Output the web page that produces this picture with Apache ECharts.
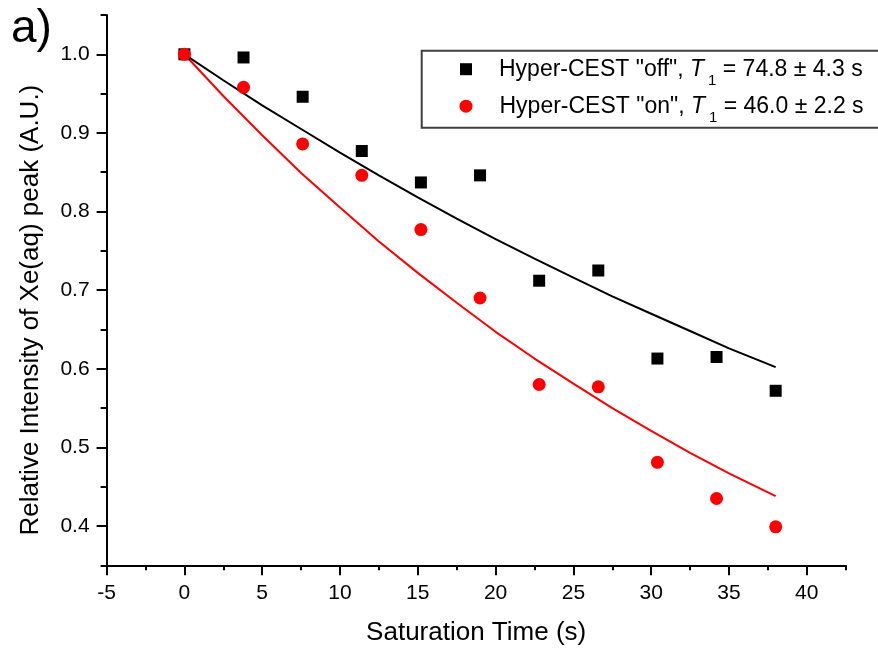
<!DOCTYPE html>
<html>
<head>
<meta charset="utf-8">
<title>Hyper-CEST T1</title>
<script src="https://cdn.jsdelivr.net/npm/echarts@6/dist/echarts.min.js"></script>
<style>
  html, body { margin: 0; padding: 0; background: #fff; }
  #chart { width: 878px; height: 649px; }
</style>
</head>
<body>
<div id="chart"></div>
<script>
// saturation times (s) of the measured points
const timeS = [0, 3.8, 7.6, 11.4, 15.2, 19, 22.8, 26.6, 30.4, 34.2, 38];
// relative intensity, hyper-CEST "off" (squares)
const offValues = [1.0, 0.996, 0.946, 0.877, 0.837, 0.846, 0.712, 0.725, 0.613, 0.615, 0.572];
// relative intensity, hyper-CEST "on" (circles)
const onValues = [1.0, 0.958, 0.886, 0.846, 0.777, 0.690, 0.580, 0.577, 0.481, 0.435, 0.399];

// fitted decay curves
const fitTime = [0, 2.5, 5, 7.5, 10, 12.5, 15, 17.5, 20, 22.5, 25, 27.5, 30, 32.5, 35, 38];
const offFit = [1.000, 0.967, 0.935, 0.905, 0.875, 0.846, 0.818, 0.791, 0.765, 0.740, 0.716, 0.692, 0.670, 0.648, 0.626, 0.602];
const onFit = [1.000, 0.947, 0.897, 0.849, 0.805, 0.762, 0.722, 0.684, 0.647, 0.613, 0.581, 0.550, 0.521, 0.493, 0.467, 0.438];

// tick labels
const xTicks = [-5, 0, 5, 10, 15, 20, 25, 30, 35, 40];
const xMinorTicks = [-2.5, 2.5, 7.5, 12.5, 17.5, 22.5, 27.5, 32.5, 37.5, 42.5];
const yTicks = [0.4, 0.5, 0.6, 0.7, 0.8, 0.9, 1.0];
const yMinorTicks = [0.35, 0.45, 0.55, 0.65, 0.75, 0.85, 0.95, 1.05];

const FONT = '"Liberation Sans", Arial, sans-serif';

const pairs = (xs, ys) => xs.map((x, i) => [x, ys[i]]);

// the tall, bottom-aligned "sub" token pushes the 1 below the baseline
const legendRich = {
  h: { fontSize: 23, lineHeight: 26, fontFamily: FONT, color: '#000', padding: [0, 0, 0, 22] },
  n: { fontSize: 23, lineHeight: 26, fontFamily: FONT, color: '#000' },
  it: { fontSize: 23, lineHeight: 26, fontFamily: FONT, color: '#000', fontStyle: 'italic', padding: [0, 4, 0, 0] },
  sub: { fontSize: 15, lineHeight: 38, fontFamily: FONT, color: '#000', verticalAlign: 'bottom' }
};

const chart = echarts.init(document.getElementById('chart'), null, { renderer: 'canvas' });

const axisLine = { show: true, onZero: false, lineStyle: { color: '#000', width: 2 } };

const option = {
  animation: false,
  backgroundColor: '#fff',
  grid: { left: 106.6, right: 32.3, top: 15, bottom: 83.7, outerBoundsMode: 'none' },
  graphic: [
    {
      type: 'text', left: 11, top: 6,
      style: { text: 'a)', font: '46px ' + FONT, fill: '#000' }
    },
    {
      type: 'rect', z: 1,
      shape: { x: 421.7, y: 50.8, width: 480, height: 77 },
      style: { fill: '#fff', stroke: '#404040', lineWidth: 2 }
    }
  ],
  legend: [
    {
      data: [{ name: 'off', icon: 'rect' }],
      left: 460, top: 57.7, padding: 0,
      itemWidth: 12, itemHeight: 12, selectedMode: false,
      formatter: () => '{h|Hyper-CEST "off", }{it|T}{sub|1}{n| = 74.8 ± 4.3 s}',
      textStyle: { rich: legendRich }
    },
    {
      data: [{ name: 'on', icon: 'circle' }],
      left: 459.5, top: 94.7, padding: 0,
      itemWidth: 13, itemHeight: 13, selectedMode: false,
      formatter: () => '{h|Hyper-CEST "on", }{it|T}{sub|1}{n| = 46.0 ± 2.2 s}',
      textStyle: { rich: legendRich }
    }
  ],
  xAxis: [
    {
      type: 'value', position: 'bottom', min: -5, max: 42.5,
      name: 'Saturation Time (s)', nameLocation: 'middle', nameGap: 55,
      nameTextStyle: { fontSize: 26, fontFamily: FONT, color: '#000' },
      axisLine: axisLine,
      axisTick: { show: true, inside: false, length: 10, customValues: xTicks, lineStyle: { color: '#000', width: 2 } },
      axisLabel: { customValues: xTicks, margin: 17, fontSize: 21, fontFamily: FONT, color: '#000', formatter: (v) => String(v) },
      splitLine: { show: false }
    },
    {
      type: 'value', position: 'bottom', min: -5, max: 42.5,
      axisLine: { show: false, onZero: false },
      axisTick: { show: true, inside: false, length: 5, customValues: xMinorTicks, lineStyle: { color: '#000', width: 2 } },
      axisLabel: { show: false },
      splitLine: { show: false }
    }
  ],
  yAxis: [
    {
      type: 'value', position: 'left', min: 0.35, max: 1.05,
      name: 'Relative Intensity of Xe(aq) peak (A.U.)', nameLocation: 'middle', nameGap: 63, nameRotate: 90,
      nameTextStyle: { fontSize: 26, fontFamily: FONT, color: '#000', padding: [0, 40, 0, 0] },
      axisLine: axisLine,
      axisTick: { show: true, inside: false, length: 10, customValues: yTicks, lineStyle: { color: '#000', width: 2 } },
      axisLabel: { customValues: yTicks, margin: 17, fontSize: 21, fontFamily: FONT, color: '#000', formatter: (v) => v.toFixed(1) },
      splitLine: { show: false }
    },
    {
      type: 'value', position: 'left', min: 0.35, max: 1.05,
      axisLine: { show: false, onZero: false },
      axisTick: { show: true, inside: false, length: 6, customValues: yMinorTicks, lineStyle: { color: '#000', width: 2 } },
      axisLabel: { show: false },
      splitLine: { show: false }
    }
  ],
  series: [
    {
      name: 'off fit', type: 'line', data: pairs(fitTime, offFit),
      showSymbol: false, smooth: false, z: 2,
      lineStyle: { color: '#000', width: 2 }
    },
    {
      name: 'on fit', type: 'line', data: pairs(fitTime, onFit),
      showSymbol: false, smooth: false, z: 2,
      lineStyle: { color: '#ff0000', width: 2 }
    },
    {
      name: 'off', type: 'scatter', data: pairs(timeS, offValues),
      symbol: 'rect', symbolSize: 12, z: 3,
      itemStyle: { color: '#000', opacity: 1 }
    },
    {
      name: 'on', type: 'scatter', data: pairs(timeS, onValues),
      symbol: 'circle', symbolSize: 13, z: 4,
      itemStyle: { color: '#ff0000', opacity: 1 }
    }
  ]
};

chart.setOption(option);
</script>
</body>
</html>
